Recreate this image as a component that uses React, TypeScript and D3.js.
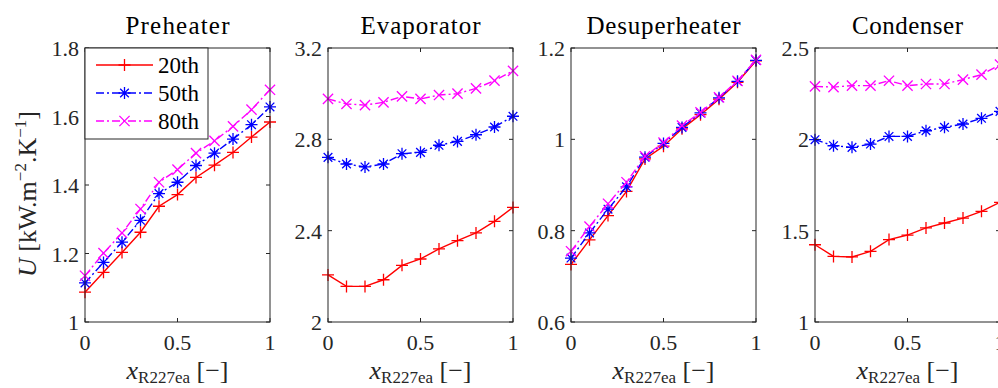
import { useEffect, useRef } from 'react';
import * as d3 from 'd3';

const xValues = [0, 0.1, 0.2, 0.3, 0.4, 0.5, 0.6, 0.7, 0.8, 0.9, 1];
const xTicks = [0, 0.5, 1];

const panelTitles = ['Preheater', 'Evaporator', 'Desuperheater', 'Condenser'];
const yDomains: [number, number][] = [[1, 1.8], [2, 3.2], [0.6, 1.2], [1, 2.5]];
const yTicks = [
  [1, 1.2, 1.4, 1.6, 1.8],
  [2, 2.4, 2.8, 3.2],
  [0.6, 0.8, 1, 1.2],
  [1, 1.5, 2, 2.5],
];

const preheater20 = [1.087, 1.145, 1.203, 1.262, 1.338, 1.372, 1.422, 1.458, 1.495, 1.54, 1.584];
const preheater50 = [1.114, 1.174, 1.233, 1.297, 1.375, 1.408, 1.457, 1.493, 1.534, 1.576, 1.628];
const preheater80 = [1.135, 1.201, 1.26, 1.33, 1.408, 1.445, 1.493, 1.529, 1.571, 1.62, 1.678];

const evaporator20 = [2.206, 2.156, 2.156, 2.185, 2.248, 2.276, 2.32, 2.356, 2.39, 2.441, 2.502];
const evaporator50 = [2.721, 2.692, 2.679, 2.692, 2.737, 2.743, 2.774, 2.791, 2.82, 2.854, 2.901];
const evaporator80 = [2.977, 2.955, 2.95, 2.962, 2.988, 2.977, 2.994, 3.0, 3.023, 3.057, 3.1];

const desuperheater20 = [0.726, 0.78, 0.833, 0.886, 0.957, 0.985, 1.023, 1.054, 1.088, 1.125, 1.172];
const desuperheater50 = [0.74, 0.795, 0.847, 0.896, 0.961, 0.991, 1.026, 1.058, 1.091, 1.127, 1.173];
const desuperheater80 = [0.755, 0.809, 0.859, 0.906, 0.963, 0.993, 1.03, 1.059, 1.092, 1.128, 1.174];

const condenser20 = [1.423, 1.359, 1.356, 1.387, 1.451, 1.476, 1.515, 1.542, 1.569, 1.606, 1.655];
const condenser50 = [1.998, 1.965, 1.956, 1.974, 2.016, 2.016, 2.047, 2.066, 2.084, 2.115, 2.153];
const condenser80 = [2.29, 2.286, 2.294, 2.294, 2.321, 2.294, 2.303, 2.303, 2.327, 2.354, 2.409];

const seriesNames = ['20th', '50th', '80th'];
const seriesColors = ['#ff0000', '#0000ff', '#ff00ff'];
const seriesDash = [null, '8,3,2,3', '8,3,2,3'];
const seriesMarkers = ['plus', 'star', 'cross'];

const panelData = [
  [preheater20, preheater50, preheater80],
  [evaporator20, evaporator50, evaporator80],
  [desuperheater20, desuperheater50, desuperheater80],
  [condenser20, condenser50, condenser80],
];

// widths the reference titles take up (LaTeX fonts run wider than Times)
const titleWidths = [104, 120, 154, 111];

const FONT = 'Liberation Serif, DejaVu Serif, serif';

function markerPath(kind: string, r: number): string {
  const plus = `M${-r},0L${r},0M0,${-r}L0,${r}`;
  const c = r * 0.72;
  const cross = `M${-c},${-c}L${c},${c}M${-c},${c}L${c},${-c}`;
  if (kind === 'plus') return plus;
  if (kind === 'cross') return `M${-r * 0.85},${-r * 0.85}L${r * 0.85},${r * 0.85}M${-r * 0.85},${r * 0.85}L${r * 0.85},${-r * 0.85}`;
  return plus + cross;
}

export default function App() {
  const svgRef = useRef<SVGSVGElement>(null);

  useEffect(() => {
    if (!svgRef.current) return;
    const svg = d3.select(svgRef.current);
    svg.selectAll('*').remove();

    const root = svg.append('g').attr('font-family', FONT);

    const top = 48;
    const bottom = 322;
    const plotW = 185;
    const lefts = [85, 328, 571, 815];
    const axisColor = '#262626';

    panelData.forEach((series, p) => {
      const left = lefts[p];
      const x = d3.scaleLinear().domain([0, 1]).range([left, left + plotW]);
      const y = d3.scaleLinear().domain(yDomains[p]).range([bottom, top]);
      const g = root.append('g');

      // title
      g.append('text')
        .attr('x', left + plotW / 2)
        .attr('y', 34)
        .attr('text-anchor', 'middle')
        .attr('font-size', 25)
        .attr('textLength', titleWidths[p])
        .attr('lengthAdjust', 'spacing')
        .attr('fill', '#000')
        .text(panelTitles[p]);

      const line = d3
        .line<number>()
        .x((_, i) => x(xValues[i]))
        .y((d) => y(d));

      series.forEach((vals, s) => {
        const path = g.append('path')
          .datum(vals)
          .attr('d', line)
          .attr('fill', 'none')
          .attr('stroke', seriesColors[s])
          .attr('stroke-width', 1.4);
        if (seriesDash[s]) path.attr('stroke-dasharray', seriesDash[s]!);

        g.selectAll(null)
          .data(vals)
          .join('path')
          .attr('transform', (d, i) => `translate(${x(xValues[i])},${y(d)})`)
          .attr('d', markerPath(seriesMarkers[s], 6))
          .attr('fill', 'none')
          .attr('stroke', seriesColors[s])
          .attr('stroke-width', 1.3);
      });

      // box
      g.append('rect')
        .attr('x', left)
        .attr('y', top)
        .attr('width', plotW)
        .attr('height', bottom - top)
        .attr('fill', 'none')
        .attr('stroke', axisColor)
        .attr('stroke-width', 1);

      // y ticks, inward on both sides
      yTicks[p].forEach((t) => {
        const yy = y(t);
        g.append('line').attr('x1', left).attr('x2', left + 4).attr('y1', yy).attr('y2', yy).attr('stroke', axisColor);
        g.append('line').attr('x1', left + plotW - 4).attr('x2', left + plotW).attr('y1', yy).attr('y2', yy).attr('stroke', axisColor);
        g.append('text')
          .attr('x', left - 6)
          .attr('y', yy + 8)
          .attr('text-anchor', 'end')
          .attr('font-size', 22)
          .attr('fill', axisColor)
          .text(d3.format('~g')(t));
      });

      // x ticks
      xTicks.forEach((t) => {
        const xx = x(t);
        g.append('line').attr('x1', xx).attr('x2', xx).attr('y1', bottom).attr('y2', bottom - 4).attr('stroke', axisColor);
        g.append('line').attr('x1', xx).attr('x2', xx).attr('y1', top).attr('y2', top + 4).attr('stroke', axisColor);
        g.append('text')
          .attr('x', xx)
          .attr('y', 350)
          .attr('text-anchor', 'middle')
          .attr('font-size', 22)
          .attr('fill', axisColor)
          .text(d3.format('~g')(t));
      });

      // x label
      const xl = g.append('text')
        .attr('x', left + plotW / 2)
        .attr('y', 379)
        .attr('text-anchor', 'middle')
        .attr('font-size', 26)
        .attr('fill', axisColor);
      xl.append('tspan').attr('font-style', 'italic').text('x');
      xl.append('tspan').attr('font-size', 17).attr('dy', 4).text('R227ea');
      xl.append('tspan').attr('dy', -4).text(' [\u2212]');
    });

    // y label
    const yl = root.append('text')
      .attr('transform', 'translate(36,194) rotate(-90)')
      .attr('text-anchor', 'middle')
      .attr('font-size', 26)
      .attr('fill', axisColor);
    yl.append('tspan').attr('font-style', 'italic').text('U');
    yl.append('tspan').text(' [kW.m');
    yl.append('tspan').attr('font-size', 17).attr('dy', -10).text('\u22122');
    yl.append('tspan').attr('dy', 10).text('.K');
    yl.append('tspan').attr('font-size', 17).attr('dy', -10).text('\u22121');
    yl.append('tspan').attr('dy', 10).text(']');

    // legend inside first panel
    const lg = root.append('g');
    lg.append('rect')
      .attr('x', 85)
      .attr('y', 48)
      .attr('width', 123)
      .attr('height', 91)
      .attr('fill', '#fff')
      .attr('stroke', axisColor)
      .attr('stroke-width', 1);
    seriesNames.forEach((name, s) => {
      const yy = 65 + s * 28;
      const ln = lg.append('line')
        .attr('x1', 96)
        .attr('x2', 153)
        .attr('y1', yy)
        .attr('y2', yy)
        .attr('stroke', seriesColors[s])
        .attr('stroke-width', 1.4);
      if (seriesDash[s]) ln.attr('stroke-dasharray', seriesDash[s]!);
      lg.append('path')
        .attr('transform', `translate(124.5,${yy})`)
        .attr('d', markerPath(seriesMarkers[s], 6))
        .attr('fill', 'none')
        .attr('stroke', seriesColors[s])
        .attr('stroke-width', 1.3);
      lg.append('text')
        .attr('x', 158)
        .attr('y', yy + 8)
        .attr('font-size', 23)
        .attr('fill', '#000')
        .text(name);
    });
  }, []);

  return (
    <svg
      ref={svgRef}
      width={998}
      height={388}
      style={{ position: 'absolute', left: 0, top: 0, background: '#fff' }}
    />
  );
}
